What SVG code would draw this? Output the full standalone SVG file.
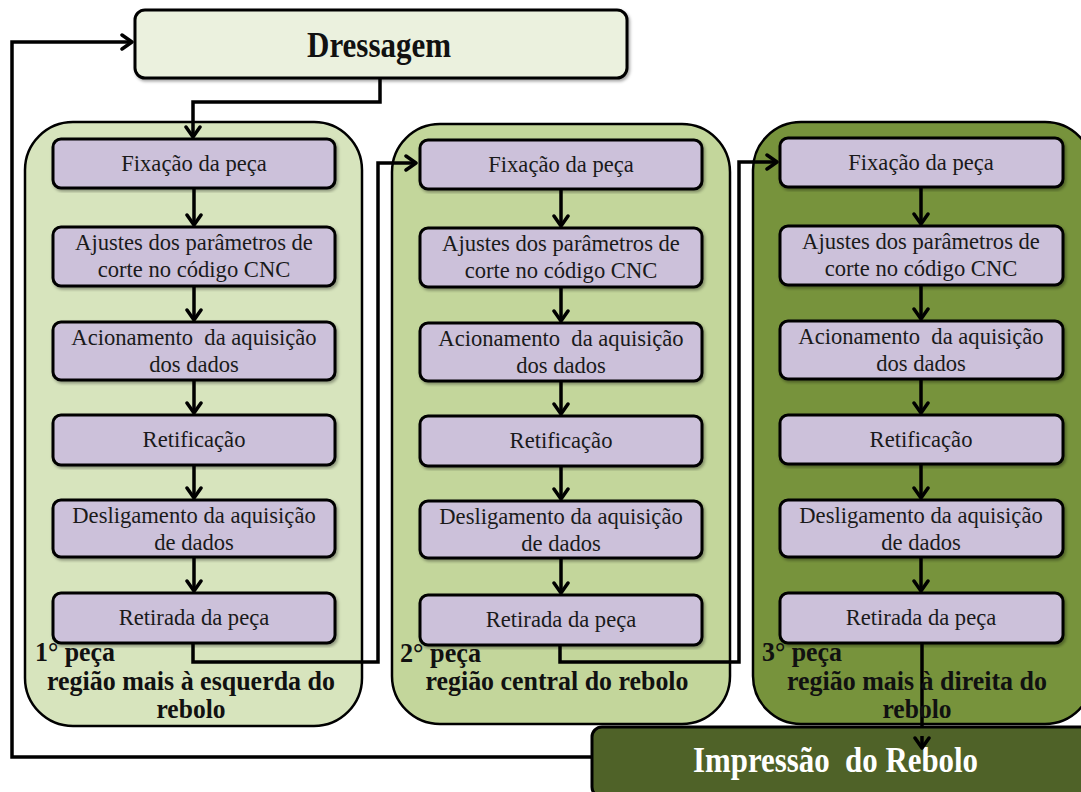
<svg xmlns="http://www.w3.org/2000/svg" width="1081" height="792" viewBox="0 0 1081 792">
  <defs>
    <marker id="chev" viewBox="0 0 14 18" markerWidth="14" markerHeight="18" refX="12" refY="9" orient="auto" markerUnits="userSpaceOnUse">
      <path d="M2,2 L12,9 L2,16" fill="none" stroke="#000" stroke-width="3.5" stroke-linecap="round" stroke-linejoin="round"/>
    </marker>
    <filter id="sh" x="-5%" y="-5%" width="110%" height="115%">
      <feDropShadow dx="1.5" dy="2" stdDeviation="1.5" flood-color="#000" flood-opacity="0.35"/>
    </filter>
  </defs>
  <style>
    .cont { stroke: #000; stroke-width: 2.5; }
    .step { fill: #ccc1da; stroke: #000; stroke-width: 3; filter: url(#sh); }
    .st { font-size: 22.6px; fill: #1a1a1a; text-anchor: middle; }
    .lbl { font-size: 27px; font-weight: bold; fill: #111; }
    .mid { text-anchor: middle; }
    .arr { fill: none; stroke: #000; stroke-width: 3.5; marker-end: url(#chev); }
  </style>

  <rect width="1081" height="792" fill="#fff"/>

  <!-- stage containers -->
  <g id="stage1">
    <rect class="cont" x="25" y="122" width="337" height="604" rx="48" fill="#d7e4bd"/>
  </g>
  <g id="stage2">
    <rect class="cont" x="392" y="124" width="338" height="600" rx="48" fill="#c3d69b"/>
  </g>
  <g id="stage3">
    <rect class="cont" x="753" y="122" width="340" height="602" rx="48" fill="#77933c"/>
  </g>

  <!-- top node -->
  <g id="dressagem" font-family="Liberation Serif, Times New Roman, serif">
    <rect x="135" y="10" width="492" height="68" rx="10" fill="#ebf1de" stroke="#000" stroke-width="3" filter="url(#sh)"/>
    <text x="379" y="57" font-size="35" font-weight="bold" text-anchor="middle" fill="#111" textLength="144" lengthAdjust="spacingAndGlyphs">Dressagem</text>
  </g>

  <!-- connectors -->
  <g id="connectors">
    <!-- Dressagem to first stage -->
    <path class="arr" d="M380,78 V102 H193 V137"/>
    <!-- column 1 steps -->
    <path class="arr" d="M194,189 V225"/>
    <path class="arr" d="M194,287 V320"/>
    <path class="arr" d="M194,381 V413"/>
    <path class="arr" d="M194,466 V498"/>
    <path class="arr" d="M194,558 V591"/>
    <!-- column 2 steps -->
    <path class="arr" d="M561,190 V226"/>
    <path class="arr" d="M561,288 V321"/>
    <path class="arr" d="M561,382 V414"/>
    <path class="arr" d="M561,467 V499"/>
    <path class="arr" d="M561,559 V593"/>
    <!-- column 3 steps -->
    <path class="arr" d="M921,188 V224"/>
    <path class="arr" d="M921,286 V319"/>
    <path class="arr" d="M921,380 V413"/>
    <path class="arr" d="M921,465 V498"/>
    <path class="arr" d="M921,558 V591"/>
    <!-- stage 1 to stage 2 -->
    <path class="arr" d="M193,644 V662 H378 V163 H416"/>
    <!-- stage 2 to stage 3 -->
    <path class="arr" d="M560,646 V662 H739 V162 H777"/>
    <!-- stage 3 to impression -->
    <path class="arr" d="M922,644 V748"/>
    <!-- impression back to dressing -->
    <path class="arr" d="M592,757 H12 V42 H132"/>
  </g>

  <g font-family="Liberation Serif, Times New Roman, serif">
  <!-- column 1 steps -->
  <g id="c1s1"><rect class="step" x="53" y="139" width="282" height="49" rx="8"/><text class="st" x="194" y="171">Fixação da peça</text></g>
  <g id="c1s2"><rect class="step" x="53" y="227" width="282" height="59" rx="8"/><text class="st" x="194" y="250">Ajustes dos parâmetros de</text><text class="st" x="194" y="277">corte no código CNC</text></g>
  <g id="c1s3"><rect class="step" x="53" y="322" width="282" height="58" rx="8"/><text class="st" x="194" y="345" xml:space="preserve">Acionamento  da aquisição</text><text class="st" x="194" y="372">dos dados</text></g>
  <g id="c1s4"><rect class="step" x="53" y="415" width="282" height="50" rx="8"/><text class="st" x="194" y="447">Retificação</text></g>
  <g id="c1s5"><rect class="step" x="53" y="500" width="282" height="57" rx="8"/><text class="st" x="194" y="523">Desligamento da aquisição</text><text class="st" x="194" y="550">de dados</text></g>
  <g id="c1s6"><rect class="step" x="53" y="593" width="282" height="50" rx="8"/><text class="st" x="194" y="625">Retirada da peça</text></g>

  <!-- column 2 steps -->
  <g id="c2s1"><rect class="step" x="420" y="140" width="282" height="49" rx="8"/><text class="st" x="561" y="172">Fixação da peça</text></g>
  <g id="c2s2"><rect class="step" x="420" y="228" width="282" height="59" rx="8"/><text class="st" x="561" y="251">Ajustes dos parâmetros de</text><text class="st" x="561" y="278">corte no código CNC</text></g>
  <g id="c2s3"><rect class="step" x="420" y="323" width="282" height="58" rx="8"/><text class="st" x="561" y="346" xml:space="preserve">Acionamento  da aquisição</text><text class="st" x="561" y="373">dos dados</text></g>
  <g id="c2s4"><rect class="step" x="420" y="416" width="282" height="50" rx="8"/><text class="st" x="561" y="448">Retificação</text></g>
  <g id="c2s5"><rect class="step" x="420" y="501" width="282" height="57" rx="8"/><text class="st" x="561" y="524">Desligamento da aquisição</text><text class="st" x="561" y="551">de dados</text></g>
  <g id="c2s6"><rect class="step" x="420" y="595" width="282" height="50" rx="8"/><text class="st" x="561" y="627">Retirada da peça</text></g>

  <!-- column 3 steps -->
  <g id="c3s1"><rect class="step" x="780" y="138" width="283" height="49" rx="8"/><text class="st" x="921" y="170">Fixação da peça</text></g>
  <g id="c3s2"><rect class="step" x="780" y="226" width="283" height="59" rx="8"/><text class="st" x="921" y="249">Ajustes dos parâmetros de</text><text class="st" x="921" y="276">corte no código CNC</text></g>
  <g id="c3s3"><rect class="step" x="780" y="321" width="283" height="58" rx="8"/><text class="st" x="921" y="344" xml:space="preserve">Acionamento  da aquisição</text><text class="st" x="921" y="371">dos dados</text></g>
  <g id="c3s4"><rect class="step" x="780" y="415" width="283" height="49" rx="8"/><text class="st" x="921" y="447">Retificação</text></g>
  <g id="c3s5"><rect class="step" x="780" y="500" width="283" height="57" rx="8"/><text class="st" x="921" y="523">Desligamento da aquisição</text><text class="st" x="921" y="550">de dados</text></g>
  <g id="c3s6"><rect class="step" x="780" y="593" width="283" height="50" rx="8"/><text class="st" x="921" y="625">Retirada da peça</text></g>

  <!-- stage captions -->
  <g id="cap1">
    <text class="lbl" x="35" y="661" textLength="80" lengthAdjust="spacingAndGlyphs">1° peça</text>
    <text class="lbl mid" x="191" y="690" textLength="288" lengthAdjust="spacingAndGlyphs">região mais à esquerda do</text>
    <text class="lbl mid" x="191" y="718" textLength="69" lengthAdjust="spacingAndGlyphs">rebolo</text>
  </g>
  <g id="cap2">
    <text class="lbl" x="400" y="662" textLength="81" lengthAdjust="spacingAndGlyphs">2° peça</text>
    <text class="lbl mid" x="557" y="690" textLength="263" lengthAdjust="spacingAndGlyphs">região central do rebolo</text>
  </g>
  <g id="cap3">
    <text class="lbl" x="762" y="661" textLength="80" lengthAdjust="spacingAndGlyphs">3° peça</text>
    <text class="lbl mid" x="917" y="690" textLength="260" lengthAdjust="spacingAndGlyphs">região mais à direita do</text>
    <text class="lbl mid" x="917" y="718" textLength="69" lengthAdjust="spacingAndGlyphs">rebolo</text>
  </g>

  <!-- bottom node -->
  <g id="impressao">
    <rect x="592" y="727" width="500" height="70" rx="10" fill="#4f6228" stroke="#000" stroke-width="3"/>
    <text x="693" y="772" font-size="35" font-weight="bold" fill="#fff" xml:space="preserve" textLength="285" lengthAdjust="spacingAndGlyphs">Impressão  do Rebolo</text>
  </g>
  </g>
  <!-- arrow tip into bottom node -->
  <path class="arr" d="M922,736 V748"/>
</svg>
